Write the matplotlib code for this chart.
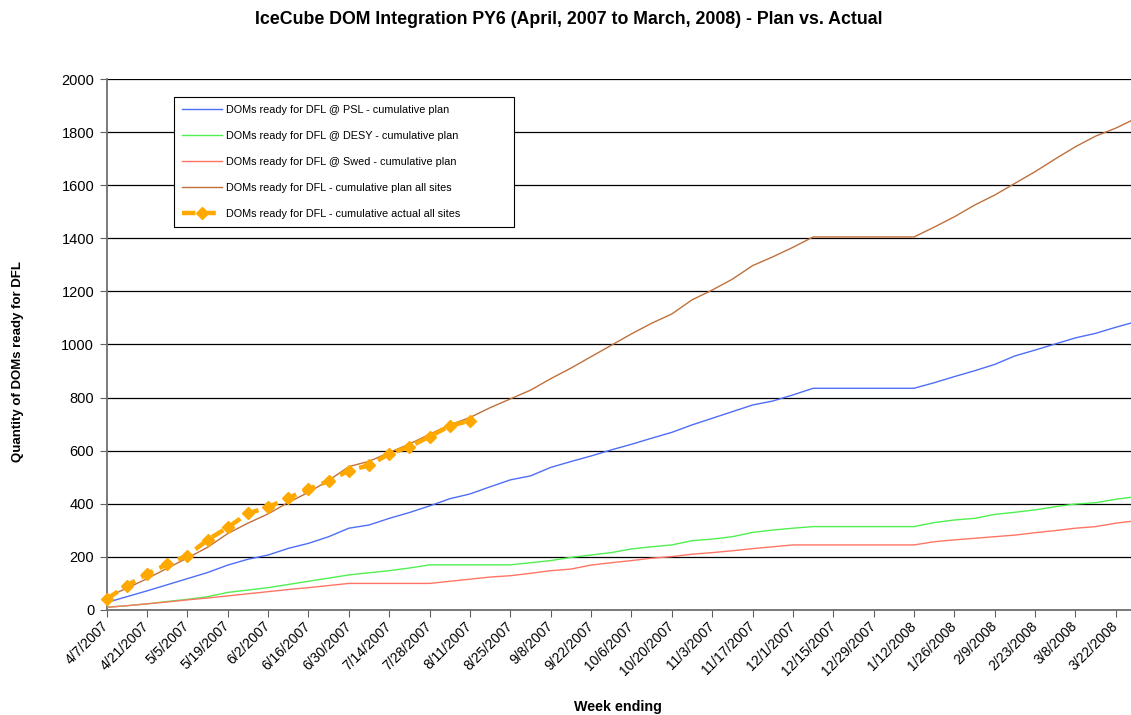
import numpy as np
import matplotlib
matplotlib.use('Agg')
import matplotlib.pyplot as plt

plt.rcParams['font.family'] = ['Liberation Sans', 'DejaVu Sans']

# week index 0 = week ending 4/7/2007, weekly up to 3/29/2008
tick_labels = ['4/7/2007', '4/21/2007', '5/5/2007', '5/19/2007', '6/2/2007', '6/16/2007',
               '6/30/2007', '7/14/2007', '7/28/2007', '8/11/2007', '8/25/2007', '9/8/2007',
               '9/22/2007', '10/6/2007', '10/20/2007', '11/3/2007', '11/17/2007', '12/1/2007',
               '12/15/2007', '12/29/2007', '1/12/2008', '1/26/2008', '2/9/2008', '2/23/2008',
               '3/8/2008', '3/22/2008']

psl_plan = [28, 50, 72, 95, 118, 141, 169, 191, 207, 232, 251, 276, 308, 320, 345, 367, 392, 419,
            437, 464, 490, 505, 537, 559, 580, 603, 624, 647, 669, 697, 722, 747, 772, 787, 810,
            835, 835, 835, 835, 835, 835, 856, 879, 901, 925, 957, 979, 1002, 1025, 1042, 1065, 1086]

desy_plan = [10, 16, 23, 32, 40, 50, 66, 75, 84, 96, 108, 120, 132, 140, 148, 158, 170, 170,
             170, 170, 170, 178, 186, 198, 207, 216, 230, 238, 245, 261, 267, 276, 292, 301, 308,
             314, 314, 314, 314, 314, 314, 329, 339, 345, 360, 368, 377, 389, 399, 404, 417, 427]

swed_plan = [10, 16, 23, 30, 38, 45, 53, 61, 69, 77, 84, 92, 100, 100, 100, 100, 100, 108,
             116, 124, 129, 138, 148, 154, 169, 178, 186, 195, 201, 210, 216, 223, 231, 238, 245,
             245, 245, 245, 245, 245, 245, 257, 264, 270, 276, 282, 291, 299, 308, 314, 327, 336]

all_plan = [48, 82, 118, 157, 196, 236, 288, 327, 362, 405, 443, 488, 540, 560, 593, 625, 662, 697,
            725, 762, 795, 828, 871, 911, 954, 997, 1040, 1080, 1115, 1168, 1205, 1246, 1297, 1330,
            1366, 1405, 1405, 1405, 1405, 1405, 1405, 1442, 1481, 1525, 1563, 1607, 1651, 1699,
            1745, 1785, 1815, 1852]

all_actual = [41, 92, 136, 172, 205, 264, 311, 364, 387, 422, 455, 486, 525, 545, 588, 615, 653,
              693, 713]

weeks = np.arange(len(all_plan))

fig = plt.figure(figsize=(11.31, 7.15), dpi=100)
ax = fig.add_axes([0.0943, 0.1469, 0.9057, 0.7426])

ax.plot(weeks, psl_plan, color='#4f6ef7', lw=1.0, label='DOMs ready for DFL @ PSL - cumulative plan', zorder=3)
ax.plot(weeks, desy_plan, color='#4ff04f', lw=1.0, label='DOMs ready for DFL @ DESY - cumulative plan', zorder=3)
ax.plot(weeks, swed_plan, color='#ff7565', lw=1.0, label='DOMs ready for DFL @ Swed - cumulative plan', zorder=3)
ax.plot(weeks, all_plan, color='#c0703a', lw=1.0, label='DOMs ready for DFL - cumulative plan all sites', zorder=3)
ax.plot(weeks[:len(all_actual)], all_actual, color='#ffa800', lw=3.2, ls=(0, (3, 1.6)),
        marker='D', markersize=6.5, markeredgecolor='#ffa800', clip_on=False,
        label='DOMs ready for DFL - cumulative actual all sites', zorder=4)

ax.set_xlim(0, 50.75)
ax.set_ylim(0, 2000)
ax.set_yticks(range(0, 2001, 200))
ax.set_xticks(weeks[::2])
ax.set_xticklabels(tick_labels, rotation=45, ha='right', va='center', rotation_mode='anchor')
ax.tick_params(axis='x', labelsize=10, length=5, color='#606060', pad=5)
ax.tick_params(axis='y', labelsize=10.5, length=5, color='#606060', pad=4)

ax.grid(axis='y', color='black', lw=0.9, zorder=1)
ax.set_axisbelow(True)
for s in ['top', 'right']:
    ax.spines[s].set_visible(False)
for s in ['left', 'bottom']:
    ax.spines[s].set_color('#707070')
    ax.spines[s].set_linewidth(1.3)

leg = ax.legend(loc='upper left', bbox_to_anchor=(0.0655, 0.719, 0.332, 0.247), mode='expand',
                fontsize=7.8, frameon=True, fancybox=False, framealpha=1, edgecolor='black',
                handlelength=3.7, handletextpad=0.4, labelspacing=1.47, borderpad=0.75,
                borderaxespad=0)
leg.get_frame().set_linewidth(0.8)

fig.text(0.503, 0.973, 'IceCube DOM Integration PY6 (April, 2007 to March, 2008) - Plan vs. Actual',
         ha='center', va='center', fontsize=12.8, fontweight='bold')
fig.text(0.016, 0.494, 'Quantity of DOMs ready for DFL', rotation=90, ha='center', va='center',
         fontsize=9.5, fontweight='bold')
fig.text(0.546, 0.011, 'Week ending', ha='center', va='center', fontsize=10.3, fontweight='bold')

plt.savefig('out.png', dpi=100)
